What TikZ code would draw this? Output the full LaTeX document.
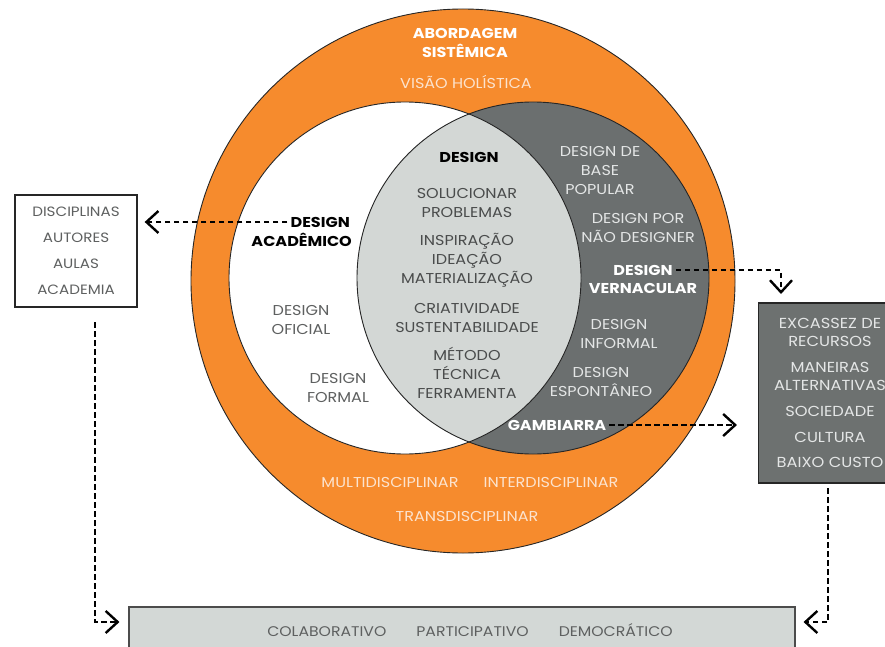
\documentclass[tikz,border=0pt]{standalone}
\usepackage{fontspec}
\setmainfont{Poppins}[FakeStretch=1.12]
\usetikzlibrary{arrows.meta}
\definecolor{orng}{HTML}{F68B2D}
\definecolor{dkg}{HTML}{6B6F6F}
\definecolor{lensg}{HTML}{D3D7D5}
\definecolor{lenstxt}{HTML}{4A4C4C}
\definecolor{peach}{HTML}{FCE3CE}
\definecolor{ltxt}{HTML}{E4E6E6}
\definecolor{graytxt}{HTML}{5E6060}
\definecolor{bboxg}{HTML}{D3D8D6}
\definecolor{rboxg}{HTML}{6D7170}
\begin{document}
\begin{tikzpicture}[x=1pt,y=-1pt,
  txt/.style={font=\fontsize{14.3}{19}\selectfont, align=center, inner sep=0pt},
  bold/.style={font=\fontsize{14.3}{19}\selectfont\bfseries, align=center, inner sep=0pt},
  conn/.style={line width=2.3pt, dash pattern=on 5.5pt off 3.5pt,
     -{Straight Barb[length=12pt,width=22pt,line width=2.4pt]}},
  circline/.style={line width=0.9pt, draw=black!85}
]
\clip (0,0) rectangle (885,647);
\useasboundingbox (0,0) rectangle (885,647);

% circles
\draw[circline, fill=orng] (463,281) circle[radius=272pt];
\fill[white] (405,278) circle[radius=176pt];
\fill[dkg] (533,278) circle[radius=176pt];
\begin{scope}
  \clip (405,278) circle[radius=176pt];
  \fill[lensg] (533,278) circle[radius=176pt];
\end{scope}
\draw[circline] (405,278) circle[radius=176pt];
\draw[circline] (533,278) circle[radius=176pt];

% orange ring texts
\node[bold, text=white] (abord) at (465,43) {ABORDAGEM\\SISTÊMICA};
\node[txt, text=peach] (visao) at (466,82) {VISÃO HOLÍSTICA};
\node[txt, text=peach] (multi) at (390,482) {MULTIDISCIPLINAR};
\node[txt, text=peach] (inter) at (551,482) {INTERDISCIPLINAR};
\node[txt, text=peach] (trans) at (467,516) {TRANSDISCIPLINAR};

% lens texts
\node[bold, text=black] (design) at (469,157) {DESIGN};
\node[txt, text=lenstxt] (sol) at (467,203.5) {SOLUCIONAR\\PROBLEMAS};
\node[txt, text=lenstxt] (insp) at (467,260) {INSPIRAÇÃO\\IDEAÇÃO\\MATERIALIZAÇÃO};
\node[txt, text=lenstxt] (criat) at (467,317.5) {CRIATIVIDADE\\SUSTENTABILIDADE};
\node[txt, text=lenstxt] (metodo) at (467,373) {MÉTODO\\TÉCNICA\\FERRAMENTA};

% left circle texts
\node[bold, text=black, anchor=east] (acadA) at (350,222) {DESIGN};
\node[bold, text=black, anchor=east] (acadB) at (352,240) {ACADÊMICO};
\node[txt, text=graytxt] (oficial) at (301,320) {DESIGN\\OFICIAL};
\node[txt, text=graytxt] (formal) at (338,387.5) {DESIGN\\FORMAL};

% right circle texts
\node[txt, text=ltxt] (popular) at (600,171) {DESIGN DE\\BASE\\POPULAR};
\node[txt, text=ltxt] (naodes) at (638,228) {DESIGN POR\\NÃO DESIGNER};
\node[bold, text=white] (vernA) at (643,270) {DESIGN};
\node[bold, text=white] (vernB) at (643,288) {VERNACULAR};
\node[txt, text=ltxt] (informal) at (619,333.5) {DESIGN\\INFORMAL};
\node[txt, text=ltxt] (espont) at (601,381.5) {DESIGN\\ESPONTÂNEO};
\node[bold, text=white] (gamb) at (557,425) {GAMBIARRA};

% boxes
\node[draw=black!85, line width=1.3pt, fill=white, minimum width=122pt, minimum height=112pt,
      text=graytxt, font=\fontsize{13.5}{26}\selectfont, align=center, inner sep=0pt]
      (leftbox) at (76,251) {DISCIPLINAS\\AUTORES\\AULAS\\ACADEMIA};
\node[draw=black!85, line width=1.1pt, fill=rboxg, minimum width=143pt, minimum height=180pt,
      text=ltxt, font=\fontsize{14.5}{18}\selectfont, align=center, inner sep=0pt]
      (rightbox) at (830,393) {EXCASSEZ DE\\RECURSOS\\[8pt]MANEIRAS\\ALTERNATIVAS\\[8pt]SOCIEDADE\\[8pt]CULTURA\\[7pt]BAIXO CUSTO};
\node[draw=black!70, line width=1.1pt, fill=bboxg, minimum width=666pt, minimum height=50pt,
      inner sep=0pt] (bottombox) at (462,632) {};
\node[text=graytxt, font=\fontsize{14}{18}\selectfont, inner sep=0pt]
      (coltext) at (470,630) {COLABORATIVO\hspace{30pt}PARTICIPATIVO\hspace{30pt}DEMOCRÁTICO};

% connector ends
\coordinate (vtip) at (781,294);
\coordinate (lbstart) at (95,322);
\coordinate (rbstart) at (828,488);

% connectors
\draw[conn, shorten >=7pt, shorten <=3pt] (acadA.west) -- (acadA.west -| leftbox.east);
\draw[conn, shorten <=3pt] (vernA.east) -| (vtip);
\draw[conn, shorten >=21pt, shorten <=3pt] (gamb.east) -- (gamb.east -| rightbox.west);
\draw[conn, shorten >=9pt] (lbstart) |- ([yshift=10pt]bottombox.west);
\draw[conn, shorten >=8pt] (rbstart) |- ([yshift=10pt]bottombox.east);
\end{tikzpicture}
\end{document}
